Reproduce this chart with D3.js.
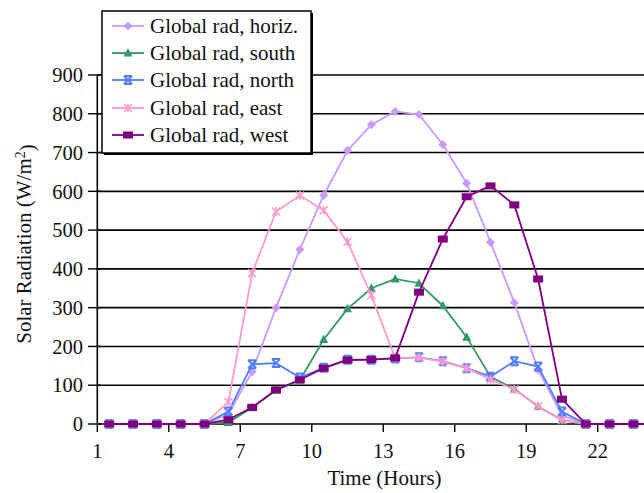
<!DOCTYPE html>
<html>
<head>
<meta charset="utf-8">
<script src="https://cdn.jsdelivr.net/npm/d3@7"></script>
<style>
html,body{margin:0;padding:0;background:#fff;}
svg{display:block;font-family:"Liberation Serif","Times New Roman",serif;}
</style>
</head>
<body>
<svg id="chart" width="644" height="493"></svg>
<script>
const hours = [1,2,3,4,5,6,7,8,9,10,11,12,13,14,15,16,17,18,19,20,21,22,23,24];
const xTickLabels = [1,4,7,10,13,16,19,22];
const yTicks = [0,100,200,300,400,500,600,700,800,900];

const horiz = [0,0,0,0,0,25,135,300,450,590,705,772,806,798,721,621,469,313,140,22,0,0,0,0];
const south = [0,0,0,0,0,4,42,87,113,218,297,350,374,363,305,224,122,90,45,10,0,0,0,0];
const north = [0,0,0,0,0,32,154,157,120,145,166,166,169,172,162,144,122,162,148,32,0,0,0,0];
const east  = [0,0,0,0,0,57,389,548,589,551,470,332,170,171,161,144,115,89,46,10,0,0,0,0];
const west  = [0,0,0,0,0,11,43,88,114,144,165,166,170,340,477,586,614,565,374,64,0,0,0,0];

const seriesNames = ["Global rad, horiz.","Global rad, south","Global rad, north","Global rad, east","Global rad, west"];
const seriesData = [horiz, south, north, east, west];
const seriesColors = ["#CC99FF","#339966","#4F7DFF","#FF99CC","#800080"];
const seriesMarkers = ["diamond","triangle","x","star","dash"];

const svg = d3.select("#chart");
const x = d3.scaleBand().domain(hours).range([97.3, 669.2]).padding(0);
const y = d3.scaleLinear().domain([0, 900]).range([424, 75]);

// gridlines
svg.append("g").selectAll("line").data(yTicks.filter(v => v > 0)).join("line")
  .attr("x1", 97).attr("x2", 680)
  .attr("y1", d => y(d)).attr("y2", d => y(d))
  .attr("stroke", "#000").attr("stroke-width", 1.6);

// y axis
const yAxis = svg.append("g");
yAxis.append("line").attr("x1", 97.3).attr("x2", 97.3).attr("y1", y(900)).attr("y2", y(0))
  .attr("stroke", "#000").attr("stroke-width", 1.6);
yAxis.selectAll("line.t").data(yTicks).join("line").attr("class","t")
  .attr("x1", 88).attr("x2", 101).attr("y1", d => y(d)).attr("y2", d => y(d))
  .attr("stroke", "#000").attr("stroke-width", 1.4);
yAxis.selectAll("text").data(yTicks).join("text")
  .attr("x", 83).attr("y", d => y(d)).attr("dy", "0.35em")
  .attr("text-anchor", "end").attr("font-size", "20.5px").attr("fill", "#111")
  .text(d => d);

// x axis
const xAxis = svg.append("g");
xAxis.append("line").attr("x1", 97.3).attr("x2", 680).attr("y1", y(0)).attr("y2", y(0))
  .attr("stroke", "#000").attr("stroke-width", 1.6);
xAxis.selectAll("line.t").data(xTickLabels).join("line").attr("class","t")
  .attr("x1", d => x(d)).attr("x2", d => x(d)).attr("y1", y(0)).attr("y2", y(0) + 8)
  .attr("stroke", "#000").attr("stroke-width", 1.4);
xAxis.selectAll("text").data(xTickLabels).join("text")
  .attr("x", d => x(d)).attr("y", 458)
  .attr("text-anchor", "middle").attr("font-size", "20.5px").attr("fill", "#111")
  .text(d => d);

// axis titles
svg.append("text").attr("x", 384.5).attr("y", 485).attr("text-anchor", "middle")
  .attr("font-size", "21px").attr("fill", "#111").text("Time (Hours)");
const yt = svg.append("text").attr("transform", "translate(31,244) rotate(-90)")
  .attr("text-anchor", "middle").attr("font-size", "21px").attr("fill", "#111");
yt.append("tspan").text("Solar Radiation (W/m");
yt.append("tspan").attr("dy", "-0.4em").attr("font-size", "14px").text("2");
yt.append("tspan").attr("dy", "0.4em").text(")");

function marker(g, type, color, cx, cy) {
  if (type === "diamond") {
    g.append("path").attr("d", `M${cx},${cy-4.5}L${cx+4.5},${cy}L${cx},${cy+4.5}L${cx-4.5},${cy}Z`).attr("fill", color);
  } else if (type === "triangle") {
    g.append("path").attr("d", `M${cx},${cy-5}L${cx+4.5},${cy+3.5}L${cx-4.5},${cy+3.5}Z`).attr("fill", color);
  } else if (type === "x") {
    g.append("path").attr("d", `M${cx-4},${cy-4}L${cx+4},${cy+4}M${cx+4},${cy-4}L${cx-4},${cy+4}M${cx-4},${cy-4}L${cx+4},${cy-4}M${cx-4},${cy+4}L${cx+4},${cy+4}`)
      .attr("stroke", color).attr("stroke-width", 2).attr("fill", "none");
  } else if (type === "star") {
    g.append("path").attr("d", `M${cx-4},${cy-4}L${cx+4},${cy+4}M${cx+4},${cy-4}L${cx-4},${cy+4}M${cx},${cy-4.5}L${cx},${cy+4.5}`)
      .attr("stroke", color).attr("stroke-width", 1.5).attr("fill", "none");
  } else if (type === "dash") {
    g.append("rect").attr("x", cx-5).attr("y", cy-3.5).attr("width", 10).attr("height", 7).attr("fill", color);
  }
}

const line = d3.line().x((d, i) => x(hours[i]) + x.bandwidth() / 2).y(d => y(d));
seriesData.forEach((data, si) => {
  const g = svg.append("g");
  g.append("path").attr("d", line(data)).attr("fill", "none")
    .attr("stroke", seriesColors[si]).attr("stroke-width", 1.8);
  data.forEach((v, i) => marker(g, seriesMarkers[si], seriesColors[si], x(hours[i]) + x.bandwidth() / 2, y(v)));
});

// legend
const lg = svg.append("g");
lg.append("rect").attr("x", 104).attr("y", 13).attr("width", 209).attr("height", 142).attr("fill", "#000");
lg.append("rect").attr("x", 102).attr("y", 11).attr("width", 209).attr("height", 142)
  .attr("fill", "#fff").attr("stroke", "#000").attr("stroke-width", 1.5);
const rowY = [26, 53, 80, 108, 135];
seriesNames.forEach((name, i) => {
  lg.append("line").attr("x1", 112).attr("x2", 144).attr("y1", rowY[i]).attr("y2", rowY[i])
    .attr("stroke", seriesColors[i]).attr("stroke-width", 1.8);
  marker(lg, seriesMarkers[i], seriesColors[i], 128, rowY[i]);
  lg.append("text").attr("x", 150).attr("y", rowY[i]).attr("dy", "0.35em")
    .attr("font-size", "21px").attr("fill", "#111").text(name);
});
</script>
</body>
</html>
